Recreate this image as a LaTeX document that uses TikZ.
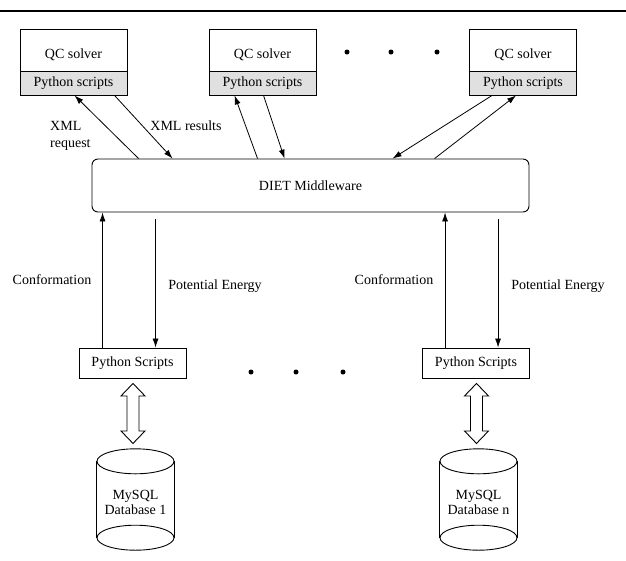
\documentclass[tikz,border=0pt]{standalone}
\usepackage{fontspec}
\setmainfont{Liberation Serif}
\usetikzlibrary{arrows.meta,calc}
\begin{document}
\begin{tikzpicture}[x=1pt,y=-1pt,
  every node/.style={font=\fontsize{14}{16}\selectfont, inner sep=0pt},
  solvertop/.style={draw, line width=0.9pt, minimum width=107pt, minimum height=42pt},
  solverbot/.style={draw, line width=0.9pt, fill=black!12, minimum width=107pt, minimum height=24pt},
  lowbox/.style={draw, line width=0.9pt, minimum width=107pt, minimum height=30pt},
  mid/.style={draw, line width=0.9pt, rounded corners=6pt, minimum width=437pt, minimum height=53pt},
  arr/.style={line width=0.8pt, -{Latex[length=9pt,width=6pt]}},
  lbl/.style={},
  dot/.style={circle, fill=black, minimum size=5pt},
  dbtext/.style={align=center},
  dblarr/.style={line width=0.9pt, fill=white}
]
\useasboundingbox (0,0) rectangle (626,560);
\draw[line width=2.5pt] (0,11) -- (626,11);

% QC solvers
\node[solvertop] (qc1) at (73.5,50) {};
\node[solverbot] (ps1) at (73.5,83) {Python scripts};
\node (qc1t) at (73.5,55) {QC solver};
\node[solvertop] (qc2) at (262.5,50) {};
\node[solverbot] (ps2) at (262.5,83) {Python scripts};
\node (qc2t) at (262.5,55) {QC solver};
\node[solvertop] (qc3) at (523,50) {};
\node[solverbot] (ps3) at (523,83) {Python scripts};
\node (qc3t) at (523,55) {QC solver};

\node[dot] (d1) at (347,52) {};
\node[dot] (d2) at (391,52) {};
\node[dot] (d3) at (437,52) {};

% middleware
\node[mid] (diet) at (310.5,185.5) {};
\node (diett) at (310.5,185.5) {DIET Middleware};

% arrows between solvers and DIET
\draw[arr] ([xshift=47pt]diet.north west) -- ([xshift=55pt]ps1.south west);
\draw[arr] ([xshift=95pt]ps1.south west) -- ([xshift=81pt]diet.north west);
\draw[arr] ([xshift=166pt]diet.north west) -- ([xshift=26pt]ps2.south west);
\draw[arr] ([xshift=55pt]ps2.south west) -- ([xshift=193pt]diet.north west);
\draw[arr] ([xshift=23pt]ps3.south west) -- ([xshift=301pt]diet.north west);
\draw[arr] ([xshift=343pt]diet.north west) -- ([xshift=47pt]ps3.south west);

\node[align=left, anchor=west] (xreq) at (50,136) {XML\\[1pt]request};
\node (xres) at (186,126) {XML results};

% lower python scripts
\node[lowbox] (py1) at (132.5,363) {Python Scripts};
\node[lowbox] (py2) at (476,363) {Python Scripts};

\draw[arr] ([xshift=24pt]py1.north west) -- ([xshift=24pt]py1.north west |- diet.south);
\coordinate (pe1) at ($([xshift=77pt]py1.north west |- diet.south)+(0,7)$);
\draw[arr] (pe1) -- ([xshift=77pt]py1.north west);
\draw[arr] ([xshift=23pt]py2.north west) -- ([xshift=23pt]py2.north west |- diet.south);
\coordinate (pe2) at ($([xshift=76pt]py2.north west |- diet.south)+(0,7)$);
\draw[arr] (pe2) -- ([xshift=76pt]py2.north west);

\node (conf1) at (52,280) {Conformation};
\node (pot1) at (215,286) {Potential Energy};
\node (conf2) at (394,280) {Conformation};
\node (pot2) at (558,286) {Potential Energy};

\node[dot] (d4) at (251,372) {};
\node[dot] (d5) at (296,372) {};
\node[dot] (d6) at (343,372) {};

% databases
\node[minimum width=77pt, minimum height=101pt] (db1) at (135.5,499.5) {};
\node[minimum width=77pt, minimum height=101pt] (db2) at (478.5,499.5) {};
\foreach \d in {db1,db2}{
  \draw[line width=0.9pt] ($(\d.north west)+(0,12.5)$) -- ($(\d.south west)+(0,-12.5)$);
  \draw[line width=0.9pt] ($(\d.north east)+(0,12.5)$) -- ($(\d.south east)+(0,-12.5)$);
  \draw[line width=0.9pt] ($(\d.north)+(0,12.5)$) ellipse [x radius=38.5pt, y radius=12.5pt];
  \draw[line width=0.9pt] ($(\d.south)+(0,-12.5)$) ellipse [x radius=38.5pt, y radius=12.5pt];
}
\node[dbtext] (db1t) at (135.5,502) {MySQL\\[-1pt]Database 1};
\node[dbtext] (db2t) at (478.5,502) {MySQL\\[-1pt]Database n};

% double arrows
\foreach \s/\d in {py1/db1,py2/db2}{
  \coordinate (top) at ($(\s.south)+(0.5,5)$);
  \coordinate (bot) at ($(top)+(0,60)$);
  \draw[dblarr] (top) -- ++(12,12.5) -- ++(-6,0) -- ++(0,35) -- ++(6,0) -- (bot)
     -- ++(-12,-12.5) -- ++(6,0) -- ++(0,-35) -- ++(-6,0) -- cycle;
}
\end{tikzpicture}
\end{document}
